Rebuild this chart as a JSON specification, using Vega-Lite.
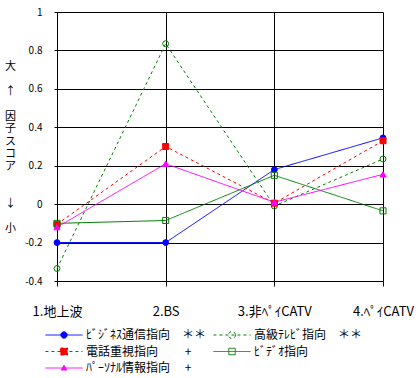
{
  "$schema": "https://vega.github.io/schema/vega-lite/v6.json",
  "width": 326,
  "height": 269,
  "autosize": {"type": "none"},
  "padding": {"left": 57, "top": 12, "right": 33, "bottom": 97},
  "background": "white",
  "config": {
    "view": {"stroke": null},
    "font": "Noto Sans CJK JP",
    "axis": {
      "gridColor": "black", "gridOpacity": 1, "gridWidth": 1,
      "domainColor": "black", "tickColor": "black",
      "labelColor": "black", "labelFont": "Noto Sans CJK JP"
    },
    "legend": {
      "orient": "none", "legendX": -12, "legendY": 317,
      "direction": "horizontal", "columns": 2, "columnPadding": 4, "rowPadding": 4.5,
      "padding": 0, "offset": 0,
      "symbolSize": 86, "symbolStrokeWidth": 1, "symbolOffset": 13,
      "labelOffset": 16, "labelFontSize": 12, "labelLimit": 0, "labelColor": "black",
      "labelFont": "Noto Sans CJK JP", "symbolOpacity": 1
    }
  },
  "data": {
    "values": [
      {"cat": "1.地上波", "series": "ﾋﾞｼﾞﾈｽ通信指向", "v": -0.2},
      {"cat": "2.BS", "series": "ﾋﾞｼﾞﾈｽ通信指向", "v": -0.2},
      {"cat": "3.非ﾍﾟｲCATV", "series": "ﾋﾞｼﾞﾈｽ通信指向", "v": 0.18},
      {"cat": "4.ﾍﾟｲCATV", "series": "ﾋﾞｼﾞﾈｽ通信指向", "v": 0.345},
      {"cat": "1.地上波", "series": "高級ﾃﾚﾋﾞ指向", "v": -0.335},
      {"cat": "2.BS", "series": "高級ﾃﾚﾋﾞ指向", "v": 0.835},
      {"cat": "3.非ﾍﾟｲCATV", "series": "高級ﾃﾚﾋﾞ指向", "v": -0.01},
      {"cat": "4.ﾍﾟｲCATV", "series": "高級ﾃﾚﾋﾞ指向", "v": 0.235},
      {"cat": "1.地上波", "series": "電話重視指向", "v": -0.105},
      {"cat": "2.BS", "series": "電話重視指向", "v": 0.3},
      {"cat": "3.非ﾍﾟｲCATV", "series": "電話重視指向", "v": 0.005},
      {"cat": "4.ﾍﾟｲCATV", "series": "電話重視指向", "v": 0.33},
      {"cat": "1.地上波", "series": "ﾋﾞﾃﾞｵ指向", "v": -0.1},
      {"cat": "2.BS", "series": "ﾋﾞﾃﾞｵ指向", "v": -0.085},
      {"cat": "3.非ﾍﾟｲCATV", "series": "ﾋﾞﾃﾞｵ指向", "v": 0.15},
      {"cat": "4.ﾍﾟｲCATV", "series": "ﾋﾞﾃﾞｵ指向", "v": -0.035},
      {"cat": "1.地上波", "series": "ﾊﾟｰｿﾅﾙ情報指向", "v": -0.12},
      {"cat": "2.BS", "series": "ﾊﾟｰｿﾅﾙ情報指向", "v": 0.21},
      {"cat": "3.非ﾍﾟｲCATV", "series": "ﾊﾟｰｿﾅﾙ情報指向", "v": 0.01},
      {"cat": "4.ﾍﾟｲCATV", "series": "ﾊﾟｰｿﾅﾙ情報指向", "v": 0.155}
    ]
  },
  "encoding": {
    "x": {
      "field": "cat", "type": "nominal", "sort": null,
      "scale": {"type": "point", "padding": 0},
      "axis": {
        "title": null, "grid": true, "domain": false, "labelAngle": 0,
        "tickSize": 5, "labelPadding": 19, "labelFontSize": 13,
        "labelBaseline": "top"
      }
    },
    "y": {
      "field": "v", "type": "quantitative",
      "scale": {"domain": [-0.4, 1], "nice": false, "zero": false},
      "axis": {
        "values": [-0.4, -0.2, 0, 0.2, 0.4, 0.6, 0.8, 1],
        "labelExpr": "replace(format(datum.value, '~g'), '−', '-')",
        "grid": true, "tickSize": 3, "labelPadding": 12, "labelFontSize": 10,
        "title": ["大", "\u200b", "↑", "\u200b", "因", "子", "ス", "コ", "ア", "\u200b", "\u200b", "↓", "\u200b", "小"],
        "titleAngle": 0, "titleAlign": "center", "titleBaseline": "top",
        "titleX": -47, "titleY": 48, "titleLineHeight": 12.5,
        "titleFontSize": 11, "titleFontWeight": "normal", "titleColor": "black"
      }
    },
    "stroke": {
      "field": "series", "type": "nominal",
      "scale": {
        "domain": ["ﾋﾞｼﾞﾈｽ通信指向", "高級ﾃﾚﾋﾞ指向", "電話重視指向", "ﾋﾞﾃﾞｵ指向", "ﾊﾟｰｿﾅﾙ情報指向"],
        "range": ["#0000ff", "#008000", "#ff0000", "#008000", "#ff00ff"]
      },
      "legend": null
    }
  },
  "layer": [
    {
      "mark": {"type": "line", "strokeWidth": 1},
      "encoding": {
        "strokeDash": {
          "field": "series", "type": "nominal", "legend": null,
          "scale": {
            "domain": ["ﾋﾞｼﾞﾈｽ通信指向", "高級ﾃﾚﾋﾞ指向", "電話重視指向", "ﾋﾞﾃﾞｵ指向", "ﾊﾟｰｿﾅﾙ情報指向"],
            "range": [[1, 0], [3, 3], [3, 3], [1, 0], [1, 0]]
          }
        }
      }
    },
    {
      "mark": {"type": "point", "strokeWidth": 1, "opacity": 1},
      "encoding": {
        "shape": {
          "field": "series", "type": "nominal", "legend": null,
          "scale": {
            "domain": ["ﾋﾞｼﾞﾈｽ通信指向", "高級ﾃﾚﾋﾞ指向", "電話重視指向", "ﾋﾞﾃﾞｵ指向", "ﾊﾟｰｿﾅﾙ情報指向"],
            "range": ["circle", "circle", "square", "square", "triangle-up"]
          }
        },
        "fill": {
          "field": "series", "type": "nominal", "legend": null,
          "scale": {
            "domain": ["ﾋﾞｼﾞﾈｽ通信指向", "高級ﾃﾚﾋﾞ指向", "電話重視指向", "ﾋﾞﾃﾞｵ指向", "ﾊﾟｰｿﾅﾙ情報指向"],
            "range": ["#0000ff", "transparent", "#ff0000", "transparent", "#ff00ff"]
          }
        },
        "size": {
          "field": "series", "type": "nominal", "legend": null,
          "scale": {
            "domain": ["ﾋﾞｼﾞﾈｽ通信指向", "高級ﾃﾚﾋﾞ指向", "電話重視指向", "ﾋﾞﾃﾞｵ指向", "ﾊﾟｰｿﾅﾙ情報指向"],
            "range": [34, 38, 49, 36, 22]
          }
        }
      }
    },
    {
      "transform": [{"filter": "datum.v > 5"}],
      "mark": {"type": "point", "strokeWidth": 1, "opacity": 1},
      "encoding": {
        "stroke": {
          "field": "series", "type": "nominal",
          "scale": {
            "domain": ["ﾋﾞｼﾞﾈｽ通信指向", "高級ﾃﾚﾋﾞ指向", "電話重視指向", "ﾋﾞﾃﾞｵ指向", "ﾊﾟｰｿﾅﾙ情報指向"],
            "range": ["#0000ff", "#008000", "#ff0000", "#008000", "#ff00ff"]
          },
          "legend": {
            "title": null,
            "labelExpr": "datum.label + (datum.label == 'ﾋﾞｼﾞﾈｽ通信指向' || datum.label == '高級ﾃﾚﾋﾞ指向' ? '　＊＊' : (datum.label == '電話重視指向' ? '　　 +' : (datum.label == 'ﾊﾟｰｿﾅﾙ情報指向' ? '　 +' : '')))"
          }
        },
        "fill": {
          "field": "series", "type": "nominal",
          "scale": {
            "domain": ["ﾋﾞｼﾞﾈｽ通信指向", "高級ﾃﾚﾋﾞ指向", "電話重視指向", "ﾋﾞﾃﾞｵ指向", "ﾊﾟｰｿﾅﾙ情報指向"],
            "range": ["#0000ff", "transparent", "#ff0000", "transparent", "#ff00ff"]
          },
          "legend": {
            "title": null,
            "labelExpr": "datum.label + (datum.label == 'ﾋﾞｼﾞﾈｽ通信指向' || datum.label == '高級ﾃﾚﾋﾞ指向' ? '　＊＊' : (datum.label == '電話重視指向' ? '　　 +' : (datum.label == 'ﾊﾟｰｿﾅﾙ情報指向' ? '　 +' : '')))"
          }
        },
        "strokeDash": {
          "field": "series", "type": "nominal",
          "scale": {
            "domain": ["ﾋﾞｼﾞﾈｽ通信指向", "高級ﾃﾚﾋﾞ指向", "電話重視指向", "ﾋﾞﾃﾞｵ指向", "ﾊﾟｰｿﾅﾙ情報指向"],
            "range": [[1, 0], [3, 3], [3, 3], [1, 0], [1, 0]]
          },
          "legend": {
            "title": null,
            "labelExpr": "datum.label + (datum.label == 'ﾋﾞｼﾞﾈｽ通信指向' || datum.label == '高級ﾃﾚﾋﾞ指向' ? '　＊＊' : (datum.label == '電話重視指向' ? '　　 +' : (datum.label == 'ﾊﾟｰｿﾅﾙ情報指向' ? '　 +' : '')))"
          }
        },
        "shape": {
          "field": "series", "type": "nominal",
          "legend": {
            "title": null,
            "labelExpr": "datum.label + (datum.label == 'ﾋﾞｼﾞﾈｽ通信指向' || datum.label == '高級ﾃﾚﾋﾞ指向' ? '　＊＊' : (datum.label == '電話重視指向' ? '　　 +' : (datum.label == 'ﾊﾟｰｿﾅﾙ情報指向' ? '　 +' : '')))"
          },
          "scale": {
            "domain": ["ﾋﾞｼﾞﾈｽ通信指向", "高級ﾃﾚﾋﾞ指向", "電話重視指向", "ﾋﾞﾃﾞｵ指向", "ﾊﾟｰｿﾅﾙ情報指向"],
            "range": [
              "M-4,0H4M0.68,0A0.68,0.68,0,1,1,-0.68,0A0.68,0.68,0,1,1,0.68,0Z",
              "M-4,0H4M0.75,0A0.75,0.75,0,1,1,-0.75,0A0.75,0.75,0,1,1,0.75,0Z",
              "M-4,0H4M-0.76,-0.76H0.76V0.76H-0.76Z",
              "M-4,0H4M-0.7,-0.7H0.7V0.7H-0.7Z",
              "M-4,0H4M0,-0.6L0.6,0.45H-0.6Z"
            ]
          }
        }
      }
    }
  ],
  "resolve": {
    "scale": {"shape": "independent", "stroke": "independent", "fill": "independent", "strokeDash": "independent"},
    "legend": {"shape": "independent", "stroke": "independent", "fill": "independent", "strokeDash": "independent"}
  }
}
